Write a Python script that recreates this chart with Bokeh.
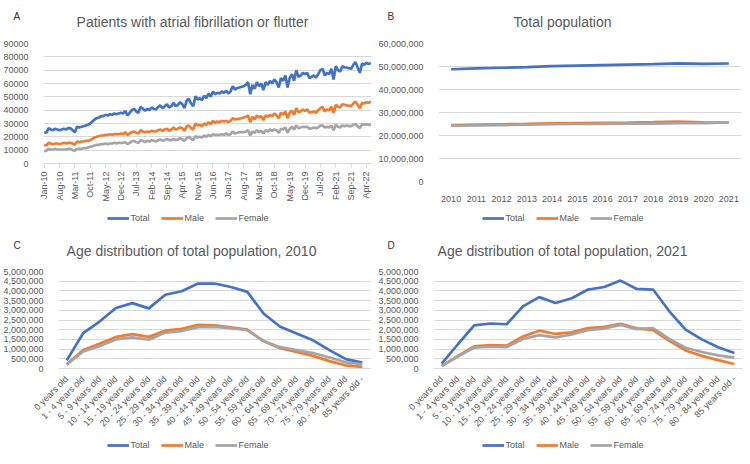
import math
from bokeh.plotting import figure
from bokeh.models import (Range1d, FactorRange, FixedTicker, NumeralTickFormatter,
                          Legend, LegendItem, Label)
from bokeh.layouts import column, row
from bokeh.embed import file_html
from bokeh.resources import INLINE

# ---------------- data ----------------
month_ticks = ["Jan-10", "Aug-10", "Mar-11", "Oct-11", "May-12", "Dec-12", "Jul-13",
               "Feb-14", "Sep-14", "Apr-15", "Nov-15", "Jun-16", "Jan-17", "Aug-17",
               "Mar-18", "Oct-18", "May-19", "Dec-19", "Jul-20", "Feb-21", "Sep-21", "Apr-22"]

afib_total = [
    23500, 23000, 26500, 25500, 25000, 26000, 25500, 25000, 25500, 26000, 25500, 26500,
    26500, 25000, 23500, 27500, 27000, 27500, 28000, 28500, 29000, 30000, 31500, 33000,
    34000, 34500, 35500, 35500, 36500, 36000, 37000, 36500, 37500, 37000, 37500, 38000,
    37500, 39500, 36000, 38000, 40000, 41000, 39000, 38000, 42500, 41000, 39500, 41000,
    40000, 42000, 41000, 40500, 42500, 43500, 41500, 43000, 44500, 42000, 43000, 45500,
    43000, 44000, 46000, 44500, 41500, 47000, 48500, 45000, 43000, 50500, 48000, 49000,
    47500, 51000, 49000, 52500, 50000, 54000, 52000, 53000, 52500, 54000, 53000, 54500,
    52500, 54000, 58000, 55500, 56500, 57000, 57500, 58000, 59000, 61000, 52000, 59000,
    56000, 61000, 58000, 60000, 55000, 61000, 59000, 62000, 60000, 63000, 61000, 57000,
    64000, 62000, 66000, 57000, 64000, 67000, 62000, 70000, 65000, 66000, 68000, 67000,
    68000, 64000, 65000, 66000, 64500, 67000, 70000, 71000, 66000, 68000, 67000, 71000,
    63000, 73000, 70000, 69000, 73000, 72000, 72000, 71500, 71000, 74000, 76000, 72000,
    68000, 75000, 74000, 75500, 74500, 75500,
]
afib_male = [
    14000, 13500, 15500, 15000, 14500, 15000, 15000, 14500, 15000, 15500, 15000, 15500,
    15500, 15000, 14000, 16500, 16000, 16500, 16500, 17000, 17000, 17500, 18500, 19500,
    20000, 20500, 21000, 21000, 21500, 21500, 22000, 21500, 22000, 22000, 22000, 22500,
    22000, 23500, 21500, 22500, 23500, 24000, 23000, 22500, 25000, 24000, 23500, 24000,
    23500, 24500, 24000, 24000, 25000, 25500, 24500, 25500, 26000, 24500, 25500, 27000,
    25500, 26000, 27000, 26500, 24500, 28000, 28500, 26500, 25500, 30000, 28500, 29000,
    28000, 30000, 29000, 31000, 29500, 32000, 30500, 31500, 31000, 32000, 31500, 32000,
    31000, 32000, 34000, 33000, 33500, 33500, 34000, 34500, 35000, 36000, 31000, 35000,
    33000, 36000, 34500, 35500, 32500, 36000, 35000, 36500, 35500, 37500, 36000, 34000,
    38000, 36500, 39000, 34000, 38000, 39500, 36500, 41500, 38500, 39000, 40500, 39500,
    40500, 38000, 38500, 39000, 38000, 40000, 41500, 42500, 39000, 40500, 40000, 42500,
    38000, 44000, 42500, 42000, 44500, 44000, 43500, 43500, 43000, 45000, 46500, 44000,
    41500, 45500, 45000, 46000, 45500, 46500,
]
afib_female = [
    9500, 9500, 11000, 10500, 10500, 11000, 10500, 10500, 10500, 10500, 10500, 11000,
    11000, 10000, 9500, 11000, 11000, 11000, 11500, 11500, 12000, 12500, 13000, 13500,
    14000, 14000, 14500, 14500, 15000, 14500, 15000, 15000, 15500, 15000, 15500, 15500,
    15500, 16000, 14500, 15500, 16500, 17000, 16000, 15500, 17500, 17000, 16000, 17000,
    16500, 17500, 17000, 16500, 17500, 18000, 17000, 17500, 18500, 17500, 17500, 18500,
    17500, 18000, 19000, 18000, 17000, 19000, 20000, 18500, 17500, 20500, 19500, 20000,
    19500, 21000, 20000, 21500, 20500, 22000, 21500, 21500, 21500, 22000, 21500, 22500,
    21500, 22000, 24000, 22500, 23000, 23500, 23500, 23500, 24000, 25000, 21000, 24000,
    23000, 25000, 23500, 24500, 22500, 25000, 24000, 25500, 24500, 25500, 25000, 23000,
    26000, 25500, 27000, 23000, 26000, 27500, 25500, 28500, 26500, 27000, 27500, 27500,
    27500, 26000, 26500, 27000, 26500, 27000, 28500, 28500, 27000, 27500, 27000, 28500,
    25000, 29000, 27500, 27000, 28500, 28000, 28500, 28000, 28000, 29000, 29500, 28000,
    26500, 29500, 29000, 29500, 29000, 29000,
]

pop_years = ["2010", "2011", "2012", "2013", "2014", "2015",
             "2016", "2017", "2018", "2019", "2020", "2021"]
pop_total = [48800000, 49150000, 49450000, 49750000, 50150000, 50400000,
             50600000, 50800000, 51000000, 51400000, 51100000, 51300000]
pop_male = [24550000, 24750000, 24900000, 25050000, 25250000, 25400000,
            25550000, 25650000, 25800000, 26000000, 25750000, 25650000]
pop_female = [24250000, 24400000, 24550000, 24700000, 24900000, 25000000,
              25050000, 25150000, 25200000, 25400000, 25350000, 25650000]

age_groups = ["0 years old", "1 - 4 years old", "5 - 9 years old", "10 - 14 years old",
              "15 - 19 years old", "20 - 24 years old", "25 - 29 years old",
              "30 - 34 years old", "35 - 39 years old", "40 - 44 years old",
              "45 - 49 years old", "50 - 54 years old", "55 - 59 years old",
              "60 - 64 years old", "65 - 69 years old", "70 - 74 years old",
              "75 - 79 years old", "80 - 84 years old", "85 years old -"]

age2010_total = [420000, 1820000, 2420000, 3120000, 3370000, 3100000, 3800000, 3980000,
                 4380000, 4380000, 4200000, 3950000, 2820000, 2150000, 1800000, 1450000,
                 950000, 480000, 300000]
age2010_male = [220000, 950000, 1270000, 1630000, 1770000, 1630000, 1950000, 2050000,
                2250000, 2220000, 2120000, 2000000, 1400000, 1050000, 850000, 650000,
                380000, 160000, 80000]
age2010_female = [200000, 880000, 1150000, 1500000, 1600000, 1480000, 1850000, 1930000,
                  2130000, 2150000, 2080000, 1970000, 1420000, 1100000, 950000, 800000,
                  570000, 320000, 220000]

age2021_total = [250000, 1250000, 2220000, 2320000, 2280000, 3200000, 3680000, 3380000,
                 3620000, 4070000, 4200000, 4530000, 4100000, 4070000, 2950000, 2000000,
                 1500000, 1100000, 800000]
age2021_male = [130000, 650000, 1140000, 1200000, 1180000, 1650000, 1950000, 1780000,
                1860000, 2080000, 2150000, 2300000, 2070000, 1980000, 1420000, 930000,
                650000, 430000, 230000]
age2021_female = [120000, 620000, 1080000, 1120000, 1100000, 1520000, 1720000, 1600000,
                  1760000, 1980000, 2060000, 2250000, 2030000, 2080000, 1530000, 1070000,
                  850000, 680000, 560000]

series_names = ["Total", "Male", "Female"]
series_colors = ["#4472C4", "#ED7D31", "#A5A5A5"]

FONT = "Liberation Sans"
TXT = "#595959"
GRID = "#D9D9D9"
W = 375
LW = 2.7


def no_align(p):
    if "frame_align" in p.properties():
        p.frame_align = False
    return p


def blank_fig(h):
    p = figure(width=W, height=h, x_range=Range1d(0, W), y_range=Range1d(0, h),
               output_backend="svg", toolbar_location=None, tools="",
               x_axis_location=None, y_axis_location=None,
               min_border=0, min_border_left=0, min_border_right=0,
               min_border_top=0, min_border_bottom=0)
    p.outline_line_color = None
    p.xgrid.visible = False
    p.ygrid.visible = False
    p.background_fill_color = "white"
    p.border_fill_color = "white"
    return no_align(p)


def header(h, letter, lx, ly, title, tx, ty):
    p = blank_fig(h)
    p.add_layout(Label(x=lx, y=h - ly, text=letter, text_font=FONT, text_font_size="10px",
                       text_color="#333333", text_baseline="middle", text_align="left"))
    p.add_layout(Label(x=tx, y=h - ty, text=title, text_font=FONT, text_font_size="14px",
                       text_color=TXT, text_baseline="middle", text_align="center"))
    return p


def legend_fig(h, top):
    p = blank_fig(h)
    # invisible single-point renderers that only carry the legend swatch styles
    rs = [p.line([0], [0], line_color=c, line_width=LW) for c in series_colors]
    leg = Legend(items=[LegendItem(label=n, renderers=[r]) for n, r in zip(series_names, rs)],
                 orientation="horizontal", location="top_center",
                 glyph_width=22, glyph_height=10, label_height=10, label_standoff=2,
                 spacing=10, padding=0, margin=top, border_line_color=None,
                 background_fill_alpha=0,
                 label_text_font=FONT, label_text_font_size="9px", label_text_color=TXT)
    p.add_layout(leg, "center")
    return p


def main_fig(h, x_range, y_range, mb_left, mb_bottom, mb_right):
    p = figure(width=W, height=h, x_range=x_range, y_range=y_range, title=None,
               output_backend="svg", toolbar_location=None, tools="",
               min_border_left=mb_left, min_border_top=6,
               min_border_bottom=mb_bottom, min_border_right=mb_right)
    p.outline_line_color = None
    p.background_fill_color = "white"
    p.border_fill_color = "white"
    p.xgrid.grid_line_color = None
    p.ygrid.grid_line_color = GRID
    p.ygrid.grid_line_width = 1
    p.yaxis.axis_line_color = None
    p.yaxis.major_tick_line_color = None
    p.yaxis.minor_tick_line_color = None
    p.yaxis.major_label_text_font = FONT
    p.yaxis.major_label_text_font_size = "9px"
    p.yaxis.major_label_text_color = TXT
    p.yaxis.major_label_standoff = 9
    p.xaxis.major_label_text_font = FONT
    p.xaxis.major_label_text_font_size = "9px"
    p.xaxis.major_label_text_color = TXT
    p.xaxis.minor_tick_line_color = None
    return no_align(p)


def add_lines(p, x, ys):
    for y, c in zip(ys, series_colors):
        p.line(x, y, line_color=c, line_width=LW)


# ---------------- A ----------------
months = list(range(len(afib_total)))
pA = main_fig(167, Range1d(-0.3, len(afib_total) - 0.7), Range1d(0, 90000), 42, 39, 4)
pA.yaxis.ticker = FixedTicker(ticks=[i * 10000 for i in range(10)])
pA.xaxis.ticker = FixedTicker(ticks=[i * 7 for i in range(len(month_ticks))])
pA.xaxis.major_label_overrides = {i * 7: t for i, t in enumerate(month_ticks)}
pA.xaxis.major_label_orientation = math.pi / 2
pA.xaxis.axis_line_color = GRID
pA.xaxis.major_tick_line_color = GRID
pA.xaxis.major_tick_out = 4
pA.xaxis.major_tick_in = 0
pA.xaxis.major_label_standoff = 4
add_lines(pA, months, [afib_total, afib_male, afib_female])
hA = header(37, "A", 13, 16, "Patients with atrial fibrillation or flutter", 192, 21)
lA = legend_fig(28, 9)

# ---------------- B ----------------
pB = main_fig(167, FactorRange(*pop_years, range_padding=0), Range1d(0, 60000000), 57, 21, 9)
pB.yaxis.ticker = FixedTicker(ticks=[i * 10000000 for i in range(7)])
pB.yaxis.formatter = NumeralTickFormatter(format="0,0")
pB.xaxis.axis_line_color = None
pB.xaxis.major_tick_line_color = None
pB.xaxis.major_label_standoff = 8
add_lines(pB, pop_years, [pop_total, pop_male, pop_female])
hB = header(37, "B", 12, 16, "Total population", 187, 21)
lB = legend_fig(28, 9)

# ---------------- C ----------------
pC = main_fig(169, FactorRange(*age_groups, range_padding=0), Range1d(0, 5000000), 57, 64, 5)
pC.yaxis.ticker = FixedTicker(ticks=[i * 500000 for i in range(11)])
pC.yaxis.formatter = NumeralTickFormatter(format="0,0")
pC.xaxis.major_label_orientation = math.pi / 4
pC.xaxis.axis_line_color = GRID
pC.xaxis.major_tick_line_color = None
pC.xaxis.major_label_standoff = 3
add_lines(pC, age_groups, [age2010_total, age2010_male, age2010_female])
hC = header(33, "C", 13, 13, "Age distribution of total population, 2010", 191, 18)
lC = legend_fig(30, 6)

# ---------------- D ----------------
pD = main_fig(169, FactorRange(*age_groups, range_padding=0), Range1d(0, 5000000), 55, 64, 8)
pD.yaxis.ticker = FixedTicker(ticks=[i * 500000 for i in range(11)])
pD.yaxis.formatter = NumeralTickFormatter(format="0,0")
pD.xaxis.major_label_orientation = math.pi / 4
pD.xaxis.axis_line_color = GRID
pD.xaxis.major_tick_line_color = None
pD.xaxis.major_label_standoff = 3
add_lines(pD, age_groups, [age2021_total, age2021_male, age2021_female])
hD = header(33, "D", 12, 13, "Age distribution of total population, 2021", 187, 18)
lD = legend_fig(30, 6)

layout = column(row(column(hA, pA, lA), column(hB, pB, lB)),
                row(column(hC, pC, lC), column(hD, pD, lD)))
open("out.html", "w").write(file_html(layout, INLINE))
